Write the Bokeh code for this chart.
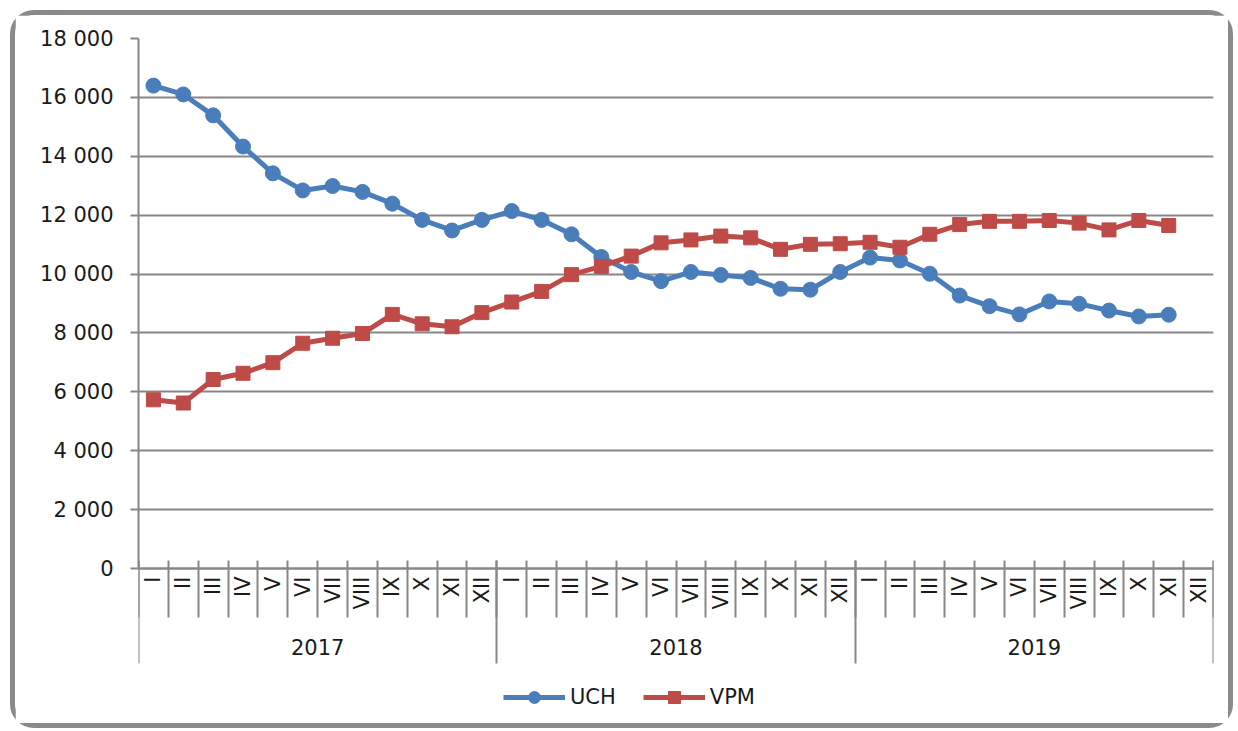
import numpy as np
from bokeh.plotting import figure
from bokeh.models import Range1d, LinearAxis, FixedTicker, Legend, LegendItem, Grid
from bokeh.embed import file_html
from bokeh.resources import INLINE

# ---- data ----
years = ["2017", "2018", "2019"]
months = ["I", "II", "III", "IV", "V", "VI", "VII", "VIII", "IX", "X", "XI", "XII"]
uch = [16400, 16100, 15390, 14330, 13420, 12840, 12990, 12790, 12390, 11840, 11480, 11840,
       12140, 11840, 11350, 10580, 10070, 9760, 10070, 9970, 9870, 9500, 9470, 10070,
       10560, 10460, 10010, 9270, 8910, 8630, 9070, 8990, 8760, 8560, 8620]
vpm = [5730, 5620, 6420, 6630, 6990, 7650, 7820, 7980, 8630, 8310, 8210, 8690,
       9050, 9410, 9980, 10260, 10610, 11060, 11160, 11290, 11230, 10840, 11010, 11030,
       11080, 10910, 11350, 11680, 11790, 11790, 11820, 11730, 11500, 11820, 11650]
y_ticks = [0, 2000, 4000, 6000, 8000, 10000, 12000, 14000, 16000, 18000]
y_tick_labels = ["0", "2 000", "4 000", "6 000", "8 000", "10 000", "12 000",
                 "14 000", "16 000", "18 000"]
series_names = ["UCH", "VPM"]

# ---- styling / layout ----
FONT = "DejaVu Sans"
FS = "21px"
GRAY = "#878787"
TXT = "#1a1a1a"
BLUE = "#4A7EBB"
RED = "#BE4B48"

Y_MAX = y_ticks[-1]
PLOT_PX = 530      # pixel height of the value area (0 .. 18 000)
BELOW_PX = 152     # pixel room below the value 0 for category labels and legend
y_start = -BELOW_PX / PLOT_PX * Y_MAX

n_slots = len(years) * len(months)
x_pos = [i + 0.5 for i in range(len(uch))]

p = figure(width=1223, height=718, x_range=Range1d(0, n_slots), y_range=Range1d(y_start, Y_MAX),
           output_backend="svg", toolbar_location=None, x_axis_type=None, y_axis_type=None,
           min_border_left=123, min_border_top=23, min_border_right=25, min_border_bottom=13)
p.outline_line_color = None
p.background_fill_color = "white"
p.border_fill_color = "white"
p.styles = {"border": "5px solid #8a8a8a", "border-radius": "24px",
            "margin-left": "10px", "margin-top": "10px"}

yticker = FixedTicker(ticks=y_ticks)
yaxis = LinearAxis(ticker=yticker, bounds=(0, Y_MAX),
                   major_label_overrides={t: l for t, l in zip(y_ticks, y_tick_labels)},
                   major_tick_out=8, major_tick_in=0, minor_tick_out=0, minor_tick_in=0,
                   major_tick_line_color=GRAY, major_tick_line_width=2,
                   axis_line_color=GRAY, axis_line_width=2, major_label_standoff=17,
                   major_label_text_font=FONT, major_label_text_font_size=FS,
                   major_label_text_color=TXT)
p.add_layout(yaxis, "left")
p.add_layout(Grid(dimension=1, ticker=yticker, grid_line_color=GRAY, grid_line_width=2))

month_centers = [i + 0.5 for i in range(n_slots)]
boundaries = list(range(n_slots + 1))
xaxis1 = LinearAxis(ticker=FixedTicker(ticks=month_centers, minor_ticks=boundaries),
                    fixed_location=0,
                    major_label_overrides={c: m for c, m in zip(month_centers, months * len(years))},
                    major_label_orientation=np.pi / 2,
                    major_tick_out=0, major_tick_in=0,
                    minor_tick_out=49, minor_tick_in=8,
                    minor_tick_line_color=GRAY, minor_tick_line_width=2,
                    axis_line_color=GRAY, axis_line_width=2, major_label_standoff=-41,
                    major_label_text_font=FONT, major_label_text_font_size=FS,
                    major_label_text_color=TXT)
p.add_layout(xaxis1, "below")

year_centers = [len(months) * (k + 0.5) for k in range(len(years))]
year_bounds = [len(months) * k for k in range(len(years) + 1)]
xaxis2 = LinearAxis(ticker=FixedTicker(ticks=year_centers, minor_ticks=year_bounds),
                    fixed_location=0,
                    major_label_overrides={c: y for c, y in zip(year_centers, years)},
                    major_tick_out=0, major_tick_in=0,
                    minor_tick_out=95, minor_tick_in=8,
                    minor_tick_line_color=GRAY, minor_tick_line_width=2,
                    axis_line_color=None, major_label_standoff=-25,
                    major_label_text_font=FONT, major_label_text_font_size=FS,
                    major_label_text_color=TXT)
p.add_layout(xaxis2, "below")

l1 = p.line(x_pos, uch, line_color=BLUE, line_width=5)
s1 = p.scatter(x_pos, uch, marker="circle", size=15, fill_color=BLUE, line_color=BLUE)
l2 = p.line(x_pos, vpm, line_color=RED, line_width=5)
s2 = p.scatter(x_pos, vpm, marker="square", size=14, fill_color=RED, line_color=RED)

legend = Legend(items=[LegendItem(label=series_names[0], renderers=[l1, s1]),
                       LegendItem(label=series_names[1], renderers=[l2, s2])],
                orientation="horizontal", location=(365, 8),
                glyph_width=62, glyph_height=30, spacing=27, padding=0, margin=0,
                label_standoff=5, border_line_color=None, background_fill_alpha=0,
                label_text_font=FONT, label_text_font_size=FS, label_text_color=TXT)
p.add_layout(legend, "center")

open("out.html", "w").write(file_html(p, INLINE))
